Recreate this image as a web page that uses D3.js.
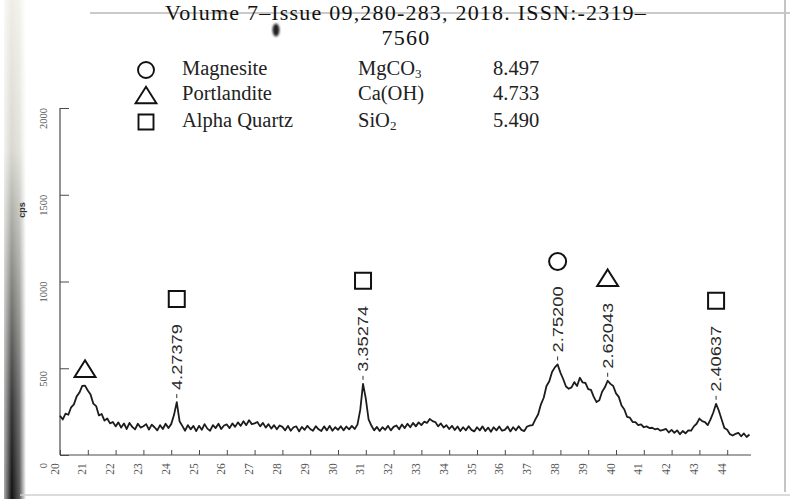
<!DOCTYPE html>
<html>
<head>
<meta charset="utf-8">
<script src="https://cdn.jsdelivr.net/npm/d3@7"></script>
<style>
  body { margin: 0; background: #fff; }
  svg { display: block; }
</style>
</head>
<body>
<svg id="chart" width="790" height="499"></svg>
<script>
// ---- data ----
const headerLines = ["Volume 7–Issue 09,280-283, 2018. ISSN:-2319–", "7560"];

const phaseNames = ["Magnesite", "Portlandite", "Alpha Quartz"];
const phaseFormulaMain = ["MgCO", "Ca(OH)", "SiO"];
const phaseFormulaSub = ["3", "", "2"];
const phaseScores = ["8.497", "4.733", "5.490"];
const phaseSymbols = ["circle", "triangle", "square"];

const xTickValues = [20, 21, 22, 23, 24, 25, 26, 27, 28, 29, 30, 31, 32,
                     33, 34, 35, 36, 37, 38, 39, 40, 41, 42, 43, 44];
const yTickValues = [0, 500, 1000, 1500, 2000];
const yAxisTitle = "cps";

// scan: 2-theta from 20.0 deg in 0.1 deg steps, intensity in counts
const scanStart = 20.0;
const scanStep = 0.1;
const counts = [
  226, 205, 238, 232, 275, 292, 338, 360, 398, 400,   // 20
  372, 348, 296, 282, 228, 236, 198, 210, 182, 190,   // 21
  165, 188, 158, 182, 150, 185, 162, 148, 180, 158,   // 22
  166, 178, 146, 175, 160, 142, 172, 150, 180, 155,   // 23
  178, 230, 305, 195, 168, 140, 172, 148, 168, 138,   // 24
  168, 145, 178, 152, 140, 172, 155, 180, 150, 170,   // 25
  176, 155, 182, 162, 188, 168, 195, 172, 200, 178,   // 26
  182, 190, 165, 185, 158, 178, 152, 172, 148, 170,   // 27
  162, 142, 168, 140, 160, 165, 136, 162, 145, 168,   // 28
  150, 140, 166, 148, 138, 165, 142, 168, 140, 160,   // 29
  145, 166, 142, 164, 148, 168, 150, 175, 260, 410,   // 30
  325, 205, 170, 142, 162, 138, 160, 145, 168, 142,   // 31
  162, 170, 148, 176, 155, 180, 160, 185, 165, 188,   // 32
  172, 192, 185, 208, 195, 190, 165, 182, 158, 172,   // 33
  150, 168, 144, 164, 138, 160, 142, 166, 145, 136,   // 34
  160, 142, 165, 138, 158, 134, 160, 142, 164, 140,   // 35
  145, 164, 136, 160, 142, 166, 145, 138, 164, 170,   // 36
  172, 205, 235, 292, 330, 398, 425, 478, 505, 522,   // 37
  475, 438, 395, 382, 390, 420, 398, 445, 418, 415,   // 38
  380, 375, 335, 305, 315, 365, 390, 428, 410, 398,   // 39
  355, 335, 285, 262, 220, 215, 190, 190, 172, 176,   // 40
  160, 165, 155, 157, 148, 152, 140, 145, 150, 130,   // 41
  145, 128, 142, 120, 138, 125, 142, 140, 165, 180,   // 42
  210, 195, 190, 172, 205, 245, 295, 255, 205, 155,   // 43
  145, 120, 112, 122, 128, 108, 124, 104, 118         // 44
];

// identified reflections: position (2-theta), d-spacing label, phase symbol
const peakAngles = [20.9, 24.2, 30.9, 37.9, 39.7, 43.6];
const peakDLabels = ["", "4.27379", "3.35274", "2.75200", "2.62043", "2.40637"];
const peakSymbols = ["triangle", "square", "square", "circle", "triangle", "square"];

// ---- drawing ----
const svg = d3.select("#chart");
const W = 790, H = 499;

const x = d3.scaleLinear().domain([20, 44.8]).range([60, 60 + 24.8 * 27.8]);
const y = d3.scaleLinear().domain([0, 2000]).range([455, 108]);

const scan = counts.map((c, i) => ({ t: scanStart + i * scanStep, c }));

const defs = svg.append("defs");
const shade = defs.append("linearGradient").attr("id", "edgeShade")
  .attr("x1", 0).attr("y1", 0).attr("x2", 0).attr("y2", 1);
[["0%", "#eeeee6"], ["30%", "#d8d8d0"], ["55%", "#8a8a86"], ["80%", "#3a3a3a"], ["100%", "#111"]]
  .forEach(([o, c]) => shade.append("stop").attr("offset", o).attr("stop-color", c));
const fadeH = defs.append("linearGradient").attr("id", "edgeFade")
  .attr("x1", 0).attr("y1", 0).attr("x2", 1).attr("y2", 0);
[["0%", 0.35], ["35%", 1], ["70%", 0.7], ["100%", 0]]
  .forEach(([o, a]) => fadeH.append("stop").attr("offset", o).attr("stop-color", "#fff").attr("stop-opacity", a));
defs.append("mask").attr("id", "edgeMask")
  .append("rect").attr("x", 4).attr("y", 0).attr("width", 22).attr("height", H).attr("fill", "url(#edgeFade)");
defs.append("filter").attr("id", "soft").append("feGaussianBlur").attr("stdDeviation", 1.2);

// page background and scanned page edges
svg.append("rect").attr("width", W).attr("height", H).attr("fill", "#fff");
svg.append("rect").attr("x", 4).attr("y", 0).attr("width", 22).attr("height", H)
  .attr("fill", "url(#edgeShade)").attr("mask", "url(#edgeMask)");
svg.append("line").attr("x1", 90).attr("x2", W).attr("y1", 13).attr("y2", 13)
  .attr("stroke", "#b8b8b8").attr("stroke-width", 1.5);
svg.append("line").attr("x1", 785).attr("x2", 785).attr("y1", 0).attr("y2", 492)
  .attr("stroke", "#c4c4c4").attr("stroke-width", 2);
svg.append("line").attr("x1", 20).attr("x2", W).attr("y1", 495).attr("y2", 495)
  .attr("stroke", "#cfcfcf").attr("stroke-width", 1.5);
svg.append("ellipse").attr("cx", 276).attr("cy", 30).attr("rx", 3.5).attr("ry", 6.5)
  .attr("fill", "#222").attr("filter", "url(#soft)");

// header text
svg.append("g").selectAll("text").data(headerLines).join("text")
  .attr("x", 406).attr("y", (d, i) => 20 + i * 25)
  .attr("text-anchor", "middle")
  .attr("font-family", "'Liberation Serif', 'Times New Roman', serif")
  .attr("font-size", 22).attr("letter-spacing", 1.2).attr("fill", "#111")
  .text(d => d);

// phase symbols
function symbolPath(kind, cx, cy, s) {
  if (kind === "circle") {
    const p = d3.path();
    p.moveTo(cx + s, cy);
    p.arc(cx, cy, s, 0, 2 * Math.PI);
    p.closePath();
    return p.toString();
  }
  if (kind === "triangle") {
    const h = s * 1.75, w = s * 2.2;
    return `M${cx},${cy - h / 2}L${cx + w / 2},${cy + h / 2}L${cx - w / 2},${cy + h / 2}Z`;
  }
  return `M${cx - s},${cy - s}H${cx + s}V${cy + s}H${cx - s}Z`;
}

// legend
const legendRows = [70, 95, 122];
const legend = svg.append("g").attr("font-family", "'Liberation Serif', 'Times New Roman', serif")
  .attr("font-size", 20.5).attr("fill", "#222");
phaseNames.forEach((name, i) => {
  const cy = legendRows[i];
  const s = phaseSymbols[i] === "circle" ? 8 : (phaseSymbols[i] === "triangle" ? 9.5 : 7.5);
  legend.append("path").attr("d", symbolPath(phaseSymbols[i], 146, cy, s))
    .attr("fill", "none").attr("stroke", "#111").attr("stroke-width", 1.9);
  legend.append("text").attr("x", 182).attr("y", cy + 5).text(name);
  const f = legend.append("text").attr("x", 358).attr("y", cy + 5);
  f.append("tspan").text(phaseFormulaMain[i]);
  if (phaseFormulaSub[i]) f.append("tspan").attr("font-size", 13).attr("dy", 3).text(phaseFormulaSub[i]);
  legend.append("text").attr("x", 493).attr("y", cy + 5).text(phaseScores[i]);
});

// axes
const axisColor = "#4a4a4a";
const xAxisG = svg.append("g").attr("transform", "translate(0,455)")
  .call(d3.axisBottom(x).tickValues(xTickValues).tickSize(-5).tickFormat(d3.format("d")));
xAxisG.select(".domain").remove();
xAxisG.append("line").attr("x1", 60).attr("x2", 751).attr("stroke", axisColor).attr("stroke-width", 1.2);
xAxisG.selectAll(".tick line").attr("stroke", axisColor).attr("stroke-width", 1);
xAxisG.selectAll(".tick text")
  .attr("y", null).attr("dy", null)
  .attr("transform", "translate(-2,14) rotate(-90)")
  .attr("text-anchor", "middle")
  .attr("font-family", "'Liberation Serif', serif").attr("font-size", 11.5)
  .attr("fill", "#555");

const yAxisG = svg.append("g").attr("transform", "translate(60,0)")
  .call(d3.axisLeft(y).tickValues(yTickValues).tickSize(-9).tickFormat(d3.format("d")));
yAxisG.select(".domain").remove();
yAxisG.append("line").attr("y1", 108).attr("y2", 455).attr("stroke", axisColor).attr("stroke-width", 1.2);
yAxisG.selectAll(".tick line").attr("stroke", axisColor).attr("stroke-width", 1);
yAxisG.selectAll(".tick text")
  .attr("x", null).attr("dy", null)
  .attr("transform", "translate(-13,10) rotate(-90)")
  .attr("text-anchor", "middle")
  .attr("font-family", "'Liberation Serif', serif").attr("font-size", 10.5)
  .attr("fill", "#555");
svg.append("text").attr("transform", "translate(25,210) rotate(-90)")
  .attr("text-anchor", "middle").attr("font-family", "'Liberation Sans', sans-serif")
  .attr("font-size", 9).attr("font-weight", "bold").attr("fill", "#333").text(yAxisTitle);

// diffraction trace
svg.append("path").datum(scan)
  .attr("d", d3.line().x(d => x(d.t)).y(d => y(d.c)))
  .attr("fill", "none").attr("stroke", "#1c1c1c").attr("stroke-width", 1.8)
  .attr("stroke-linejoin", "round");

// peak annotations: d-spacing label above each reflection, phase symbol on top
const ann = svg.append("g");
peakAngles.forEach((t, i) => {
  const near = scan.filter(d => Math.abs(d.t - t) < 0.15);
  const top = y(d3.max(near, d => d.c));
  const px = x(t);
  let symY;
  if (peakDLabels[i]) {
    const base = top - 12;
    ann.append("line").attr("x1", px).attr("x2", px).attr("y1", base + 4).attr("y2", base + 8)
      .attr("stroke", "#333").attr("stroke-width", 1);
    ann.append("text")
      .attr("transform", `translate(${px + 5},${base}) rotate(-90)`)
      .attr("text-anchor", "start")
      .attr("font-family", "'Liberation Sans', Arial, sans-serif")
      .attr("font-size", 14).attr("fill", "#2a2a2a")
      .attr("textLength", 66).attr("lengthAdjust", "spacingAndGlyphs")
      .text(peakDLabels[i]);
    symY = base - 66 - 25;
  } else {
    symY = top - 17;
  }
  const s = peakSymbols[i] === "circle" ? 8.5 : (peakSymbols[i] === "triangle" ? 9.5 : 8);
  ann.append("path").attr("d", symbolPath(peakSymbols[i], px, symY, s))
    .attr("fill", "#fff").attr("stroke", "#111").attr("stroke-width", 2);
});
</script>
</body>
</html>
